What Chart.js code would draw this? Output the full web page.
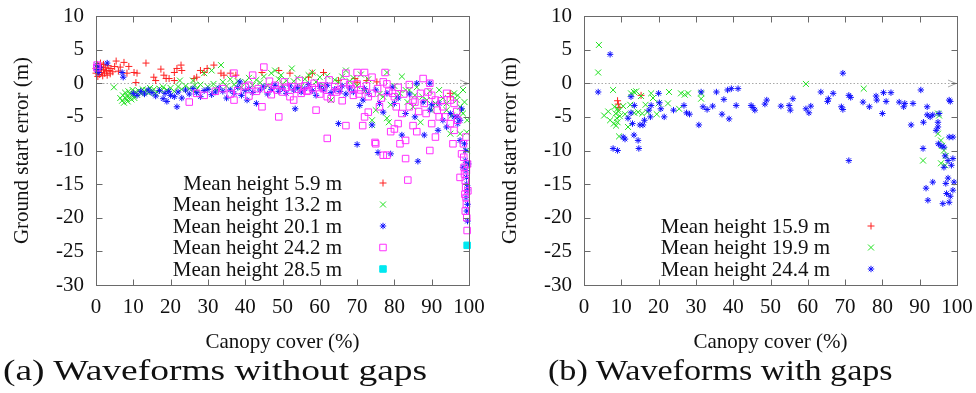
<!DOCTYPE html>
<html><head><meta charset="utf-8">
<script src="https://cdn.jsdelivr.net/npm/chart.js@4.4.1/dist/chart.umd.min.js"></script>
<style>
html,body{margin:0;padding:0;background:#fff;width:976px;height:393px;overflow:hidden;}
.wrap{position:absolute;top:0;width:488px;height:360px;}
.cap{position:absolute;top:356px;font-family:"Liberation Serif",serif;font-size:29px;line-height:29px;color:#111;white-space:nowrap;transform-origin:0 0;}
</style></head><body>
<div class="wrap" style="left:0"><canvas id="c1" width="488" height="360"></canvas></div>
<div class="wrap" style="left:488px"><canvas id="c2" width="488" height="360"></canvas></div>
<div class="cap" id="capA" style="left:3px">(a) Waveforms without gaps</div>
<div class="cap" id="capB" style="left:548px">(b) Waveforms with gaps</div>
<script>
// ---------- data ----------
const xTicks = [0,10,20,30,40,50,60,70,80,90,100];
const yTicks = [-30,-25,-20,-15,-10,-5,0,5,10];
const xTitle = "Canopy cover (%)";
const yTitle = "Ground start error (m)";

const labelsA = ["Mean height 5.9 m","Mean height 13.2 m","Mean height 20.1 m","Mean height 24.2 m","Mean height 28.5 m"];
const labelsB = ["Mean height 15.9 m","Mean height 19.9 m","Mean height 24.4 m"];

const a_h59 = [[0,1.5],[0,2.2],[0.3,2.8],[0.5,1.0],[0.5,1.8],[0.8,2.5],[1,1.3],[1,2.0],[1.2,3.0],[1.5,1.6],[1.5,2.4],[1.8,1.1],[2,2.0],[2,2.8],[2.3,1.5],[2.5,2.3],[2.8,1.8],[3,1.2],[3.2,2.6],[3.5,1.9],[3.8,1.4],[4,2.2],[4.5,1.7],[5,2.5],[5.4,3.3],[6,1.8],[6.5,2.4],[7.5,3.1],[8.3,1.5],[8.8,2.5],[10.2,1.6],[10.7,0.1],[11,1.5],[13.4,3.0],[15.5,0.9],[16,0.4],[17.4,2.1],[18.2,1.2],[18.8,0.7],[19.6,0.7],[21,1.6],[21,0.4],[21.7,2.2],[22.8,2.7],[23,1.9],[26.3,0.7],[27,0.9],[28,1.9],[29,1.6],[29.8,2.2],[31.6,2.7],[33.5,1.5],[34.3,1.2],[36,1.5],[37.5,1.2],[44.5,1.6],[49,1.9],[52,1.5],[57,0.9],[58,1.5],[61,1.6],[65,0.4],[69.4,0.7],[70,0.15],[72.6,0.4],[75.3,0.2],[95,-1.5],[95,-2]];
const a_h132 = [[4.8,-0.6],[6.5,-2.2],[7,-2.6],[7.2,-1.8],[7.5,-2.9],[7.8,-1.4],[8,-2.3],[8.2,-1.9],[8.5,-2.7],[8.7,-1.2],[9,-2.1],[9.2,-1.6],[9.5,-2.4],[9.8,-1.0],[10,-1.8],[10.3,-2.2],[10.6,-1.3],[11,-1.7],[11.4,-1.1],[12,-1.5],[12.5,-0.9],[13,-1.3],[13.5,-1.0],[14,-1.4],[14.5,-0.7],[15,-1.2],[15.5,-0.9],[16,-1.5],[17,-0.8],[17.5,-1.1],[18,-0.6],[19,-1.0],[20,-0.7],[21,-1.2],[22,-0.5],[22.5,0.4],[23,-0.9],[24,-0.4],[25,-0.8],[26,0.4],[26.5,-0.3],[27,-0.9],[28,-0.2],[29,1.5],[30,-0.5],[31,1.9],[31.5,-0.1],[32,-0.8],[33.5,2.7],[34,0.2],[35,-0.4],[36,0.6],[37,-0.2],[38,0.3],[39,-0.6],[40,0.2],[41,0.8],[42,-0.3],[43,0.5],[44,0.1],[45,1.0],[46,-0.4],[47,1.5],[48,1.9],[49,0.6],[49.6,1.2],[50,-0.2],[51,0.4],[52.5,2.2],[53,0.3],[54,0.8],[55,-0.5],[56,0.6],[57,1.2],[58,1.6],[59,0.2],[60,0.9],[61,-0.3],[62,1.1],[63,-2.5],[64,0.5],[65,0.2],[66,1.0],[67,1.9],[68,0.3],[69,0.8],[70,-0.4],[71,1.3],[72,-1.2],[73,0.6],[74,-5.5],[74,-6.2],[75,-4],[76,-1.6],[77,-2],[78,1.6],[78,-5.2],[78.5,-5.8],[79,-3.2],[80,-0.4],[80.7,-2],[81.5,-1.5],[82,1.0],[83,-1],[83.5,-2.8],[84,-1],[85,-3.5],[85.5,-1.8],[86,-0.6],[87,-5.8],[87.5,-2],[88.7,-2.5],[89.5,-1.2],[90,-4],[91,-3],[92,-1],[93,-2.2],[94,-3],[94,-4],[95,-7.5],[95.4,-4.8],[96,-1.5],[96.7,-2.5],[97,-1.8],[97.6,-3.5],[97.6,-7.5],[98,-4.2],[98.4,-1],[98.4,-4.5],[98.8,-2.8],[99.4,-7.3],[99.4,-10],[99.5,-5.5],[99.6,-12]];
const a_h201 = [[0.2,2.7],[0.6,1.6],[0.3,2.0],[1,2.3],[3,3.0],[7,1.6],[7.3,0.9],[10,-1.5],[11,-1.8],[12,-1.2],[13,-1.6],[14,-1.0],[15,-1.4],[16,-1.9],[17,-1.1],[18,-2.3],[18.5,-1.5],[19,-2.7],[19.5,-1.2],[20,-1.8],[21,-2.0],[21.7,-3.5],[22,-1.3],[23,-2.2],[24,-1.0],[25,-1.6],[26,-0.8],[27,-1.4],[28,-2.0],[29,-1.1],[30,-0.9],[31,-1.7],[32,-1.3],[33,-0.7],[34,-1.2],[35,-2.2],[36,-1.0],[37,-1.5],[38,-0.6],[38.6,0.2],[39,-1.8],[40,-1.1],[40.5,-2.5],[41,-0.8],[42,-1.4],[43,-3.0],[44,-1.0],[45,-0.5],[46,-1.6],[47,-0.9],[48,-0.3],[49,-1.2],[50,-0.7],[51,-1.5],[52,-0.4],[53,-1.0],[53.4,-3.8],[54,-0.6],[55,-1.3],[56,-0.8],[57,-0.2],[58,-1.1],[59,-1.8],[60,-0.5],[61,-1.0],[62,-0.3],[63,-1.4],[64,-0.9],[65,-6],[65.4,-1.2],[66,-0.4],[67,-1.6],[68,-0.7],[69,-1.3],[70,-9.1],[70.7,-3.3],[71.6,-2.5],[72,-0.8],[73,-1.5],[74,-6.2],[75,-1.0],[75.6,-10.3],[76,-3.0],[77,-4.3],[78,-1.5],[79,-10.5],[79.4,-0.6],[80,-3.0],[81,-2.2],[82,-7.7],[83,-4.5],[84,-1.6],[85.5,-5],[86,0],[86.3,-11.6],[87.7,-2.8],[88,-7.7],[89.5,0],[89.5,-4],[90,-3.2],[91.7,-7],[92,-3],[93,-5.5],[94,-6.5],[95,-4.5],[96,-5.0],[96.8,-5],[97,-6],[97.6,-5.5],[97.6,-8.5],[98,-3.8],[98.4,-12.5],[98.8,-9],[99,-10],[99,-11.5],[99.2,-13],[99.3,-14],[99.4,-15],[99.5,-16],[99.2,-17],[99.6,-18],[99.4,-19],[99.6,-20.5],[99.8,-12],[99.7,-15.5]];
const a_h242 = [[0.3,2.7],[0.2,2.3],[25,-2.8],[27,-1.5],[29,-1.8],[32,-1.2],[34,-0.8],[36,-1.6],[37,1.5],[37,-2.5],[38,-1.1],[40,-0.5],[41,-1.9],[41,-0.3],[42,1.2],[43,-1.2],[43.5,-0.8],[44.5,-3.5],[45,2.4],[46,-0.9],[46.5,0.3],[47,-1.7],[48,-0.3],[48.5,-1.0],[49,-5],[50,-1.3],[50.5,0.2],[51,-0.6],[52,-2.0],[52.5,-0.5],[53,-2.5],[54,-0.9],[54.5,0.4],[55,-1.5],[56,-0.4],[56.5,-1.2],[57,-1.1],[58,-0.7],[58.5,0.0],[59,-4],[60,-1.6],[60.5,-0.4],[61,-0.8],[62,-2],[62,-8.2],[62.5,0.5],[63,-2.3],[64,-0.5],[64.5,-1.3],[65,-1.0],[66,-2.6],[66.5,0.1],[67,1.5],[67,-6.3],[68,-0.2],[68.5,-0.8],[69,-1.8],[70,1.6],[70,-0.1],[70.5,-1.6],[71,-1.0],[71.5,-6.3],[72,1.6],[72,-5],[72.5,-0.4],[73,-4.3],[73,-2],[74,-1.5],[74,0.9],[74.8,-8.8],[75,-9],[75.5,-0.8],[76,-3.5],[76.5,-2.2],[77,-10.7],[77,0.2],[77.5,1.6],[78,-0.1],[78,-10.7],[78.5,-1.2],[79,-7.2],[79.5,-1.5],[80,-6.8],[80,-2],[80.5,-3.5],[81,-6],[81,-0.6],[81.5,-9],[82,-4.5],[82.5,-1.6],[83,-8.5],[83,-11.2],[83.6,-14.4],[84,-3.5],[84,-0.2],[85,-2.5],[85,-6.3],[85.5,-2.8],[86,-7.2],[86.5,-4.2],[87,-1.5],[87.7,0.7],[88,-3],[88.5,-4.5],[89,-1.3],[89.5,-10],[89.5,0],[90,-6],[90,-1.8],[91,-2.5],[91,-8],[91.5,-4],[92,-5],[92.5,-2.6],[93,-3.5],[93.5,-5],[94,-1.5],[95,-2.5],[95,-6],[95.7,-9],[96,-7],[96,-3],[96.7,-4.2],[97,-5.5],[97.6,-14],[98,-10.5],[98.5,-9],[98.6,-11],[98.7,-12.5],[98.8,-13.5],[99,-14.5],[99.1,-15.5],[98.9,-16.5],[99.2,-17],[99.3,-18],[99,-19],[99.4,-20],[99.5,-21.9],[99.2,-8],[99.6,-12],[99.7,-16],[99.3,-13]];
const a_h285 = [[99.5,-24.1]];

const b_h159 = [[9,-2.6],[9.2,-3.1],[9.4,-3.6],[15.3,-1.8]];
const b_h199 = [[3.8,1.6],[4,5.7],[5.4,-4.8],[6.5,-4.2],[7,-5.5],[7.8,-1.0],[8,-6],[8.2,-3.5],[8.5,-4.5],[8.6,-6.3],[8.8,-5.2],[9,-3.8],[9,-5.8],[9.2,-4.2],[9.4,-7.9],[9.6,-4.9],[10.5,-3.4],[11,-4.6],[11.8,-6.5],[12.4,-3.2],[12.6,-1.5],[13.4,-1.3],[13.5,-4.4],[14,-1.2],[14.5,-4.3],[15.3,-1.9],[15.6,-4.5],[16.5,-3.2],[17,-4.3],[18,-1.5],[18.5,-2.2],[19.5,-4.6],[20,-3],[22.5,-3],[22.8,-1.3],[25.5,-3.8],[26,-1.5],[27,-1.7],[27.9,-1.5],[31.4,-1.5],[31.4,-2.3],[59.5,-0.1],[75,-0.8],[90.9,-11.5],[94.9,-4.5],[94.9,-7.5],[95.2,-4.8],[95.7,-8.5],[96.5,-10],[95.7,-11.9],[96,-9.3],[97,-10.8],[96.8,-12.2]];
const b_h244 = [[3.8,-1.3],[7,4.3],[7.8,-9.7],[9,-10],[10.5,-8],[11,-8.3],[11.8,-5.2],[12.6,-2],[12.6,-4.4],[13,-6],[13.4,-7.7],[13.5,-3.3],[14.5,-8.5],[14.7,-9.7],[15,-6.2],[15.8,-6.2],[16.2,-5.5],[17.4,-4],[18,-3.3],[17.8,-5],[20,-1.5],[20.2,-2.9],[20.6,-3.8],[21.5,-5],[24,-4],[26.8,-3.3],[27.5,-4.4],[28.3,-4.6],[30.8,-6.2],[31.4,-1.3],[31.9,-3.5],[33,-3.9],[34.5,-3.4],[35.5,-1.3],[37,-4.6],[37.5,-2.4],[38.9,-5.3],[38.5,-1],[39.5,-0.8],[41.3,-0.8],[40.8,-3.3],[44.8,-3.3],[45.3,-3.6],[45.8,-4],[48.5,-3.1],[49,-2.5],[52.8,-3.4],[55,-3.3],[55.3,-4],[56,-2.3],[59.5,-3.8],[60.3,-4.4],[60.8,-3.4],[63.5,-1.3],[65.3,-2.7],[65.5,-2.3],[66.8,-1.5],[69,-3.5],[69.4,-3.9],[69.4,1.5],[71,-1.8],[71.5,-2.1],[71,-11.5],[74.8,-2.8],[76.5,-3.5],[78.3,-1.9],[78.5,-2.5],[80,-4.5],[80.3,-1.4],[81,-2.7],[82.3,-1.4],[84.5,-2.8],[85.7,-3.5],[86,-3],[87.7,-6.2],[88.2,-3],[90.3,-1],[90.9,-9.7],[91,-5.8],[91.7,-15.6],[92,-3.5],[92,-4.7],[92.2,-17.4],[92.8,-5],[93.5,-4.7],[93.5,-14.7],[94.4,-7],[94.9,-5.8],[94.9,-6.5],[95,-9],[95.2,-4.5],[95.7,-9.3],[96.2,-17.9],[96.5,-9.5],[96.5,-12.5],[96.8,-10.8],[97,-14.9],[97.2,-16.4],[97.6,-11.5],[97.6,-14.1],[97.9,-2.5],[97.9,-8],[97.9,-17.7],[98.2,-16.8],[98.9,-8],[98.9,-11.2],[98.9,-15.9],[99.2,-14.7],[98.5,-12.2],[98.2,-2.7]];

// ---------- styles ----------
const FONT = '"Liberation Serif", "Times New Roman", serif';
const FRAME = '#6a6a6a';
const styles = {
  plus:   {pointStyle:'cross',    pointRadius:3.5, borderColor:'#ff2020', backgroundColor:'#ff2020'},
  ex:     {pointStyle:'crossRot', pointRadius:4.2, borderColor:'#20e020', backgroundColor:'#20e020'},
  star:   {pointStyle:'star',     pointRadius:3.2, borderColor:'#1010ff', backgroundColor:'#1010ff'},
  box:    {pointStyle:'rect',     pointRadius:4.6, borderColor:'#ff30ff', backgroundColor:'rgba(0,0,0,0)'},
  fbox:   {pointStyle:'rect',     pointRadius:4.6, borderColor:'#00e8f0', backgroundColor:'#00e8f0'}
};

function ds(label, pts, st, i, n){
  return Object.assign({label, data: pts.map(p=>({x:p[0], y:p[1]})), borderWidth:1, pointBorderWidth:1,
    showLine:false, clip:10, order:n-i}, st);
}

const framePlugin = {
  id:'frame',
  beforeDatasetsDraw(chart){
    const {ctx, chartArea:a, scales:{x,y}} = chart;
    const y0 = Math.round(y.getPixelForValue(0))+0.5;
    ctx.save();
    ctx.strokeStyle='#a8a8a8'; ctx.lineWidth=1; ctx.setLineDash([1.5,2]);
    ctx.beginPath(); ctx.moveTo(a.left, y0); ctx.lineTo(a.right, y0); ctx.stroke();
    ctx.setLineDash([]);
    ctx.beginPath(); ctx.moveTo(a.right-9, y0-3.5); ctx.lineTo(a.right-1, y0); ctx.lineTo(a.right-9, y0+3.5); ctx.stroke();
    ctx.restore();
  },
  afterDraw(chart){
    const {ctx, chartArea:a, scales:{x,y}} = chart;
    const L=Math.round(a.left)+0.5, R=Math.round(a.right)+0.5, T=Math.round(a.top)+0.5, B=Math.round(a.bottom)+0.5;
    ctx.save();
    ctx.strokeStyle=FRAME; ctx.lineWidth=1;
    ctx.strokeRect(L, T, R-L, B-T);
    ctx.beginPath();
    const tl=6;
    xTicks.forEach(v=>{ const px=Math.round(x.getPixelForValue(v))+0.5; ctx.moveTo(px,B); ctx.lineTo(px,B-tl); ctx.moveTo(px,T); ctx.lineTo(px,T+tl); });
    yTicks.forEach(v=>{ const py=Math.round(y.getPixelForValue(v))+0.5; ctx.moveTo(L,py); ctx.lineTo(L+tl,py); ctx.moveTo(R,py); ctx.lineTo(R-tl,py); });
    ctx.stroke();
    // legend (gnuplot style: text right-aligned, sample on the right)
    const dsets = chart.data.datasets, n = dsets.length;
    ctx.font = '21px ' + FONT; ctx.fillStyle='#111'; ctx.textAlign='right'; ctx.textBaseline='middle';
    dsets.forEach((d,i)=>{
      const ry = a.bottom - 16 - (n-1-i)*21.5;
      ctx.fillText(d.label, a.left+246, ry+1);
      ctx.strokeStyle=d.borderColor; ctx.fillStyle=d.backgroundColor; ctx.lineWidth=1;
      Chart.helpers.drawPoint(ctx, {pointStyle:d.pointStyle, radius:d.pointRadius, borderWidth:1, rotation:0}, a.left+287, ry);
      ctx.fillStyle='#111';
    });
    ctx.restore();
  }
};

function makeChart(id, datasets){
  return new Chart(document.getElementById(id), {
    type:'scatter',
    data:{datasets},
    plugins:[framePlugin],
    options:{
      responsive:false, animation:false, devicePixelRatio:1,
      layout:{padding:{left:0, top:16, right:19, bottom:0}},
      plugins:{legend:{display:false}, tooltip:{enabled:false}},
      scales:{
        x:{type:'linear', min:0, max:100,
           afterBuildTicks(s){ s.ticks = xTicks.map(v=>({value:v})); },
           afterFit(s){ s.height = 75; s.paddingLeft = 0; s.paddingRight = 0; },
           grid:{display:false, drawTicks:false}, border:{display:false},
           ticks:{padding:10, color:'#111', font:{family:FONT, size:21}, maxRotation:0, autoSkip:false},
           title:{display:true, text:xTitle, color:'#111', font:{family:FONT, size:21}, padding:{top:0, bottom:5}}},
        y:{type:'linear', min:-30, max:10,
           afterBuildTicks(s){ s.ticks = yTicks.map(v=>({value:v})); },
           afterFit(s){ s.width = 96; s.paddingTop = 0; s.paddingBottom = 0; },
           grid:{display:false, drawTicks:false}, border:{display:false},
           ticks:{padding:12, color:'#111', font:{family:FONT, size:21}, autoSkip:false},
           title:{display:true, text:yTitle, color:'#111', font:{family:FONT, size:21}, padding:{top:10, bottom:0}}}
      }
    }
  });
}

const sA = [styles.plus, styles.ex, styles.star, styles.box, styles.fbox];
const dA = [a_h59, a_h132, a_h201, a_h242, a_h285];
makeChart('c1', dA.map((d,i)=>ds(labelsA[i], d, sA[i], i, dA.length)));
const sB = [styles.plus, styles.ex, styles.star];
const dB = [b_h159, b_h199, b_h244];
makeChart('c2', dB.map((d,i)=>ds(labelsB[i], d, sB[i], i, dB.length)));

function fit(id, w){ const el=document.getElementById(id); el.style.transform='scaleX('+(w/el.offsetWidth)+')'; }
fit('capA', 424); fit('capB', 345);
</script>
</body></html>
